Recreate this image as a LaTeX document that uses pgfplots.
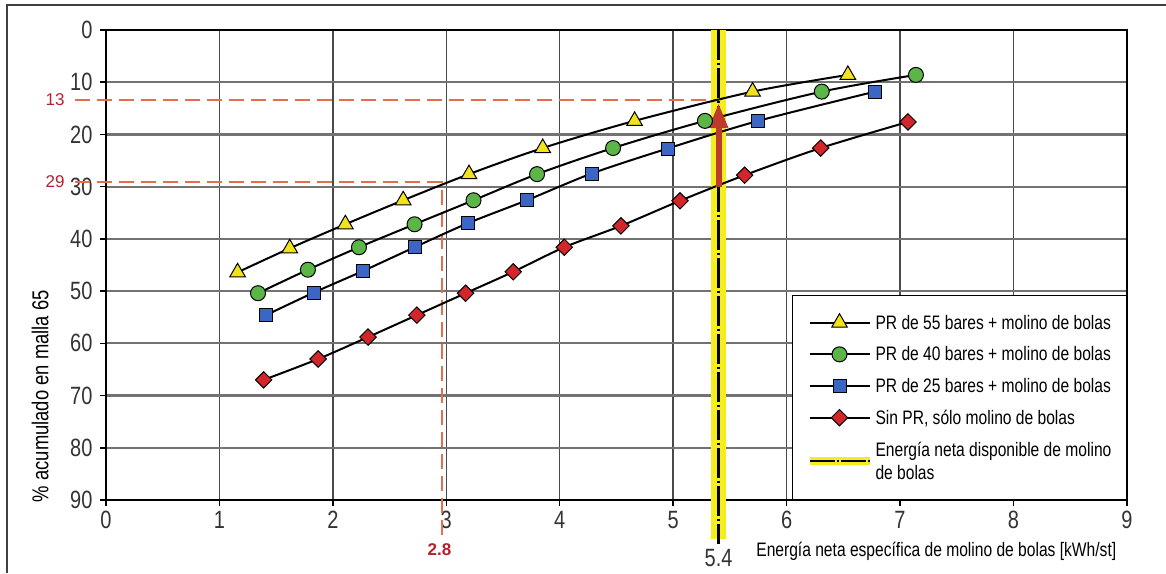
\documentclass[border=0pt]{standalone}
\usepackage{pgfplots}
\pgfplotsset{compat=1.18}
\usetikzlibrary{arrows.meta}
\usepackage{fontspec}
\setmainfont{Liberation Sans}[FakeStretch=0.8]
\newfontfamily\plainsans{Liberation Sans}
\definecolor{triY}{HTML}{F2E21B}
\definecolor{cirG}{HTML}{5CB547}
\definecolor{sqB}{HTML}{3B66C4}
\definecolor{diaR}{HTML}{D3262B}
\definecolor{bandY}{HTML}{F5EE1E}
\definecolor{dashR}{HTML}{E2704F}
\definecolor{lblR}{HTML}{B5202E}
\definecolor{arrR}{HTML}{BD3A2C}
\definecolor{gridG}{HTML}{4A4A4A}
\begin{document}
\begin{tikzpicture}[x=1pt,y=1pt]
\path[use as bounding box] (0,0) rectangle (1166,573);
\draw[black!75, line width=2pt] (7,0) -- (7,568) -- (1166,568);
\begin{axis}[
 at={(106pt,73pt)}, anchor=south west,
 width=1021pt, height=470pt, scale only axis,
 xmin=0, xmax=9, ymin=0, ymax=90, y dir=reverse,
 xtick={0,...,9}, ytick={0,10,...,90},
 grid=major,
 x grid style={gridG, line width=1.5pt},
 y grid style={black!55, line width=2.2pt},
 axis line style={black, line width=2pt},
 tick style={black, line width=1.5pt},
 major tick length=6pt,
 tick align=outside,
 xtick pos=bottom, ytick pos=left,
 /pgf/number format/assume math mode=true,
 ticklabel style={font=\fontsize{25}{28}\selectfont, text=black!80},
 xticklabel style={yshift=-2pt},
 yticklabel style={xshift=-4pt},
 xlabel={Energía neta específica de molino de bolas [kWh/st]},
 xlabel style={at={(axis description cs:0.993,-0.1085)}, anchor=east, font=\fontsize{19.5}{22}\selectfont},
 ylabel={\% acumulado en malla 65},
 ylabel style={at={(axis description cs:-0.0646,0.221)}, anchor=center, font=\fontsize{23}{26}\selectfont},
 clip=false,
 legend style={at={(1,0)}, anchor=south east, draw=black, line width=1pt, fill=white,
   font=\fontsize{19.5}{23}\selectfont, inner xsep=13pt, inner ysep=17pt, row sep=12pt,
   cells={anchor=west, align=left}},
 legend image code/.code={\draw[mark repeat=2, mark phase=2] plot coordinates {(0pt,0pt) (30pt,0pt) (60pt,0pt)};},
]
% yellow band
\addplot[forget plot, bandY, line width=15pt] coordinates {(5.4,0) (5.4,97.5)};
% red dashed guides
\addplot[forget plot, dashR, line width=2.5pt, dash pattern=on 15pt off 7pt] coordinates {(-0.27,13.4) (5.4,13.4)};
\addplot[forget plot, dashR, line width=2.5pt, dash pattern=on 15pt off 7pt] coordinates {(-0.27,29.1) (2.96,29.1) (2.96,97)};

\addplot[black, line width=2pt, smooth, mark=triangle*, mark size=9pt,
  mark options={fill=triY, draw=black, line width=1pt, solid}] coordinates {
 (1.16,46.4) (1.62,41.8) (2.11,37.2) (2.62,32.6) (3.20,27.6) (3.85,22.6) (4.66,17.4) (5.70,11.8) (6.54,8.6)};
\addlegendentry{PR de 55 bares + molino de bolas}

\addplot[black, line width=2pt, smooth, mark=*, mark size=7.5pt,
  mark options={fill=cirG, draw=black, line width=1pt, solid}] coordinates {
 (1.34,50.4) (1.78,45.9) (2.23,41.6) (2.72,37.2) (3.24,32.6) (3.80,27.6) (4.47,22.6) (5.28,17.4) (6.31,11.8) (7.14,8.6)};
\addlegendentry{PR de 40 bares + molino de bolas}

\addplot[black, line width=2pt, smooth, mark=square*, mark size=6.5pt,
  mark options={fill=sqB, draw=black, line width=1pt, solid}] coordinates {
 (1.41,54.6) (1.83,50.3) (2.27,46.1) (2.72,41.6) (3.19,37.0) (3.71,32.6) (4.28,27.5) (4.95,22.7) (5.75,17.4) (6.78,11.8)};
\addlegendentry{PR de 25 bares + molino de bolas}

\addplot[black, line width=2pt, smooth, mark=square*, mark size=5.8pt,
  mark options={fill=diaR, draw=black, line width=1pt, solid, rotate=45}] coordinates {
 (1.39,67.0) (1.87,63.0) (2.31,58.8) (2.74,54.6) (3.17,50.4) (3.59,46.3) (4.04,41.6) (4.54,37.5) (5.06,32.7) (5.63,27.8) (6.30,22.6) (7.07,17.6)};
\addlegendentry{Sin PR, sólo molino de bolas}

% black dash-dot line inside band
\addplot[forget plot, black, line width=2.5pt, dash pattern=on 30pt off 3pt on 2pt off 3pt] coordinates {(5.4,0) (5.4,98.5)};
% red arrow
\addplot[forget plot, arrR, line width=6pt, -{Triangle[length=25pt,width=18pt]}] coordinates {(5.4,30) (5.4,14)};

\addlegendimage{legend image code/.code={\draw[bandY, line width=8pt] (0pt,0pt) -- (60pt,0pt); \draw[black, line width=2.5pt, dash pattern=on 25pt off 2pt on 2pt off 2pt] (0pt,0pt) -- (60pt,0pt);}}
\addlegendentry{Energía neta disponible de molino\\de bolas}

\node[anchor=east, text=lblR, font=\plainsans\fontsize{17}{20}\selectfont] at (axis cs:-0.335,13.4) {13};
\node[anchor=east, text=lblR, font=\plainsans\fontsize{17}{20}\selectfont] at (axis cs:-0.335,29.1) {29};
\node[text=lblR, font=\plainsans\bfseries\fontsize{17}{20}\selectfont] at (axis cs:2.94,99.6) {2.8};
\node[text=black!80, font=\fontsize{25}{28}\selectfont] at (axis cs:5.4,101.1) {5.4};
\end{axis}
\end{tikzpicture}
\end{document}
